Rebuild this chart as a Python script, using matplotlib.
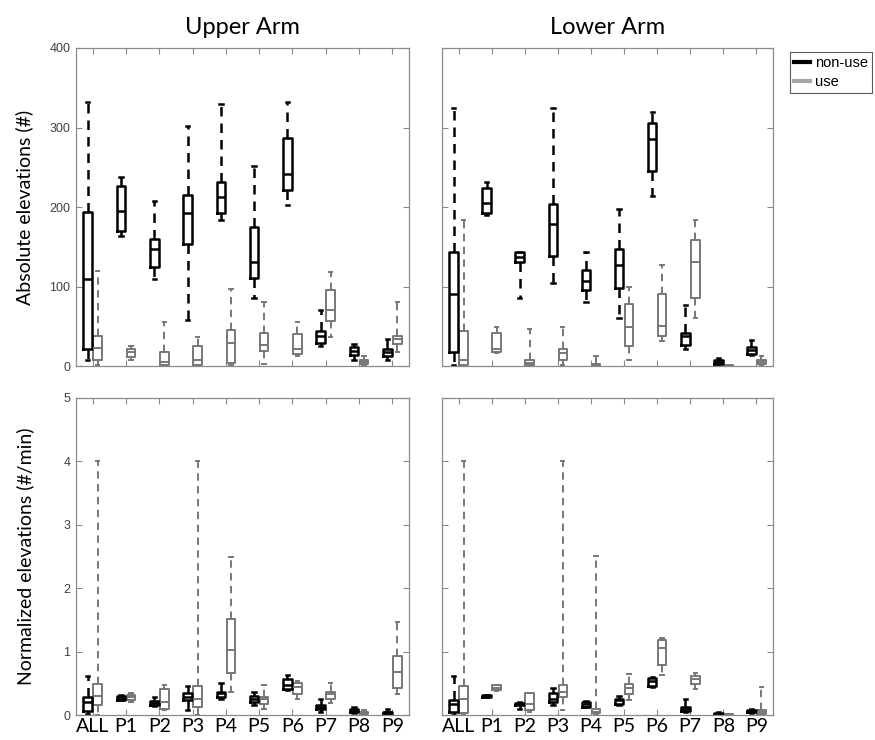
import numpy as np
import matplotlib
matplotlib.use("Agg")
import matplotlib.pyplot as plt
from matplotlib.lines import Line2D

groups = ["ALL", "P1", "P2", "P3", "P4", "P5", "P6", "P7", "P8", "P9"]

# rows: whisker low, q1, median, q3, whisker high
upper_abs_nonuse = [(7, 22, 110, 194, 332), (163, 170, 195, 226, 238), (109, 125, 147, 160, 208),
                    (58, 154, 193, 215, 302), (184, 193, 213, 232, 330), (85, 111, 131, 175, 251),
                    (202, 221, 241, 287, 332), (25, 29, 38, 44, 70), (8, 14, 19, 24, 28),
                    (7, 12, 17, 21, 34)]
upper_abs_use = [(1, 7, 23, 38, 119), (8, 11, 17, 22, 25), (0, 1, 5, 18, 55),
                 (0, 1, 8, 25, 37), (1, 4, 29, 45, 97), (3, 19, 26, 42, 80),
                 (12, 15, 21, 40, 55), (37, 57, 70, 95, 118), (0, 2, 5, 8, 12),
                 (18, 28, 34, 38, 81)]
lower_abs_nonuse = [(1, 17, 91, 143, 324), (190, 193, 205, 224, 231), (85, 131, 137, 143, 144),
                    (104, 138, 179, 204, 325), (81, 95, 107, 121, 143), (60, 98, 127, 147, 198),
                    (214, 245, 286, 306, 319), (22, 26, 38, 42, 77), (0, 3, 5, 7, 10),
                    (14, 15, 20, 24, 33)]
lower_abs_use = [(0, 1, 8, 44, 184), (16, 17, 22, 42, 49), (0, 1, 4, 8, 47),
                 (1, 8, 16, 21, 49), (0, 0, 1, 2, 12), (7, 25, 49, 78, 99),
                 (31, 38, 50, 90, 127), (61, 85, 131, 158, 184), (0, 0, 0.5, 1, 1.5),
                 (0, 2, 5, 7, 12)]

upper_norm_nonuse = [(0.01, 0.06, 0.21, 0.29, 0.62), (0.23, 0.24, 0.27, 0.30, 0.31), (0.14, 0.16, 0.19, 0.22, 0.28),
                     (0.08, 0.23, 0.29, 0.34, 0.46), (0.26, 0.29, 0.34, 0.37, 0.50), (0.16, 0.20, 0.26, 0.30, 0.37),
                     (0.39, 0.41, 0.47, 0.56, 0.63), (0.05, 0.09, 0.13, 0.16, 0.25), (0.03, 0.05, 0.07, 0.09, 0.12),
                     (0.0, 0.02, 0.04, 0.05, 0.09)]
upper_norm_use = [(0.0, 0.16, 0.30, 0.49, 4.0), (0.21, 0.23, 0.28, 0.32, 0.34), (0.08, 0.09, 0.21, 0.41, 0.48),
                  (0.0, 0.12, 0.26, 0.45, 4.0), (0.37, 0.66, 1.02, 1.51, 2.5), (0.10, 0.17, 0.25, 0.29, 0.48),
                  (0.25, 0.33, 0.44, 0.51, 0.54), (0.19, 0.26, 0.33, 0.37, 0.50), (0.0, 0.02, 0.03, 0.05, 0.08),
                  (0.33, 0.43, 0.68, 0.93, 1.47)]
lower_norm_nonuse = [(0.0, 0.05, 0.18, 0.24, 0.62), (0.28, 0.29, 0.30, 0.31, 0.32), (0.10, 0.16, 0.18, 0.19, 0.20),
                     (0.16, 0.21, 0.26, 0.34, 0.42), (0.12, 0.13, 0.17, 0.21, 0.22), (0.16, 0.18, 0.23, 0.26, 0.30),
                     (0.44, 0.46, 0.54, 0.59, 0.60), (0.05, 0.06, 0.10, 0.13, 0.26), (0.0, 0.01, 0.02, 0.03, 0.05),
                     (0.03, 0.04, 0.06, 0.08, 0.09)]
lower_norm_use = [(0.0, 0.03, 0.26, 0.46, 4.0), (0.38, 0.39, 0.43, 0.47, 0.48), (0.04, 0.08, 0.17, 0.34, 0.35),
                  (0.08, 0.28, 0.37, 0.47, 4.0), (0.0, 0.03, 0.05, 0.09, 2.51), (0.23, 0.33, 0.42, 0.49, 0.65),
                  (0.63, 0.79, 1.06, 1.19, 1.21), (0.41, 0.49, 0.56, 0.62, 0.66), (0.0, 0.0, 0.01, 0.01, 0.02),
                  (0.0, 0.01, 0.04, 0.08, 0.44)]

BLACK = "#000000"
GREY = "#777777"
AXC = "#8a8a8a"
TICKFONT = "Liberation Sans"
TEXTFONT = "Lato"


def make_stats(rows):
    return [dict(whislo=r[0], q1=r[1], med=r[2], q3=r[3], whishi=r[4], fliers=[]) for r in rows]


def draw_boxes(ax, rows, pos, color, lw):
    ax.bxp(make_stats(rows), positions=pos, widths=0.26, showfliers=False,
           capwidths=0.1, manage_ticks=False,
           boxprops=dict(color=color, linewidth=lw),
           medianprops=dict(color=color, linewidth=lw),
           whiskerprops=dict(color=color, linewidth=lw, linestyle=(0, (3.8, 2.8))),
           capprops=dict(color=color, linewidth=lw))


def style_axis(ax, ymax, yticks, show_x, show_y):
    x = np.arange(1, len(groups) + 1)
    ax.set_xlim(0.5, len(groups) + 0.5)
    ax.set_ylim(0, ymax)
    ax.set_xticks(x)
    ax.set_yticks(yticks)
    for s in ax.spines.values():
        s.set_color(AXC)
        s.set_linewidth(0.9)
    ax.tick_params(direction="in", top=True, right=True, length=4, color=AXC,
                   labelcolor="#404040", labelsize=9, pad=4)
    if show_x:
        ax.set_xticklabels(groups, fontfamily=TEXTFONT, fontsize=14, color="black")
        ax.tick_params(axis="x", pad=2)
    else:
        ax.set_xticklabels([])
    if show_y:
        for lab in ax.get_yticklabels():
            lab.set_fontfamily(TICKFONT)
    else:
        ax.set_yticklabels([])


fig = plt.figure(figsize=(8.75, 7.4), dpi=100)
W, H = 875, 740
ax_ul = fig.add_axes([76 / W, 1 - 366 / H, 333 / W, 318 / H])
ax_ur = fig.add_axes([442 / W, 1 - 366 / H, 331 / W, 318 / H])
ax_ll = fig.add_axes([76 / W, 1 - 715 / H, 333 / W, 317 / H])
ax_lr = fig.add_axes([442 / W, 1 - 715 / H, 331 / W, 317 / H])

x = np.arange(1, len(groups) + 1)
panels = [
    (ax_ul, upper_abs_nonuse, upper_abs_use, 400, [0, 100, 200, 300, 400], False, True),
    (ax_ur, lower_abs_nonuse, lower_abs_use, 400, [0, 100, 200, 300, 400], False, False),
    (ax_ll, upper_norm_nonuse, upper_norm_use, 5, [0, 1, 2, 3, 4, 5], True, True),
    (ax_lr, lower_norm_nonuse, lower_norm_use, 5, [0, 1, 2, 3, 4, 5], True, False),
]
for ax, nonuse, use, ymax, yt, sx, sy in panels:
    draw_boxes(ax, use, x + 0.15, GREY, 1.4)
    draw_boxes(ax, nonuse, x - 0.15, BLACK, 1.8)
    style_axis(ax, ymax, yt, sx, sy)

ax_ul.set_title("Upper Arm", fontfamily=TEXTFONT, fontsize=17, pad=10)
ax_ur.set_title("Lower Arm", fontfamily=TEXTFONT, fontsize=17, pad=10)
ax_ul.set_ylabel("Absolute elevations (#)", fontfamily=TEXTFONT, fontsize=14, labelpad=12)
ax_ll.set_ylabel("Normalized elevations (#/min)", fontfamily=TEXTFONT, fontsize=14, labelpad=21)

handles = [Line2D([], [], color=BLACK, lw=3), Line2D([], [], color="#a6a6a6", lw=3)]
leg = fig.legend(handles, ["non-use", "use"], loc="upper left",
                 bbox_to_anchor=(790 / W, 1 - 52 / H), frameon=True, fancybox=False,
                 edgecolor="#333333", handlelength=1.1, handletextpad=0.3,
                 borderpad=0.3, labelspacing=0.3, borderaxespad=0,
                 prop=dict(family=TICKFONT, size=10.5))
leg.get_frame().set_linewidth(0.8)

fig.savefig("out.png", dpi=100)
